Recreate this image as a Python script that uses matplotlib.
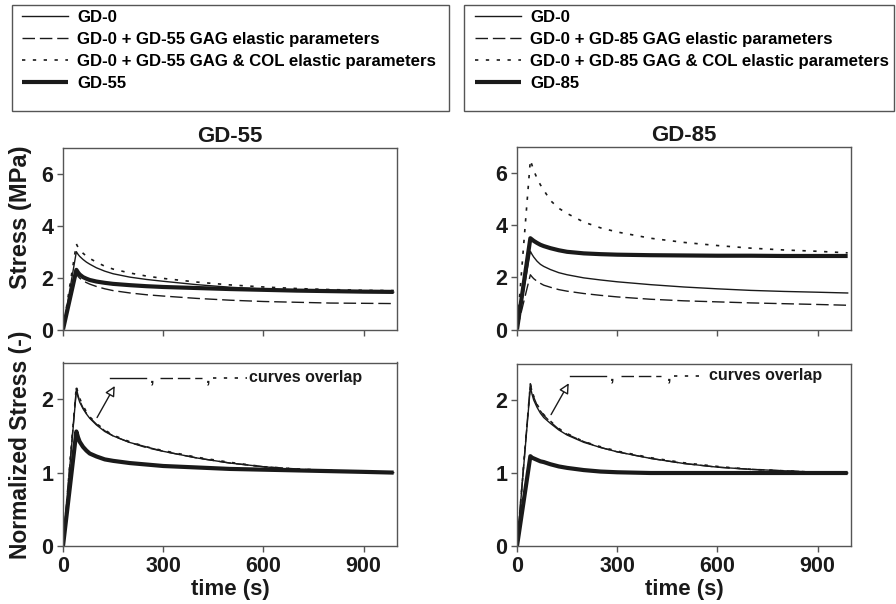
import numpy as np
import matplotlib
matplotlib.use("Agg")
import matplotlib.pyplot as plt
from matplotlib.lines import Line2D
from matplotlib.patches import Rectangle

plt.rcParams['font.family'] = ['Liberation Sans', 'DejaVu Sans']
plt.rcParams['font.weight'] = 'bold'

W, H = 896, 604
INK = '#1a1a1a'
SPINE = '#555555'

# ---------------- data ----------------
time_s = [0, 40, 45, 50, 60, 70, 80, 100, 125, 150, 200, 250, 300, 400, 500, 600, 700, 800, 900, 990]

# GD-55 panel, stress (MPa)
gd55_gd0 = [0, 3.00, 2.90, 2.82, 2.70, 2.60, 2.52, 2.38, 2.25, 2.15, 2.02, 1.93, 1.86, 1.73, 1.63, 1.56, 1.50, 1.47, 1.45, 1.44]
gd55_gag = [0, 2.15, 2.05, 1.98, 1.88, 1.81, 1.75, 1.66, 1.57, 1.50, 1.41, 1.34, 1.29, 1.20, 1.13, 1.08, 1.05, 1.02, 1.01, 1.00]
gd55_gagcol = [0, 3.30, 3.17, 3.08, 2.94, 2.83, 2.74, 2.60, 2.44, 2.33, 2.18, 2.06, 1.97, 1.83, 1.72, 1.64, 1.58, 1.54, 1.51, 1.50]
gd55_exp = [0, 2.30, 2.20, 2.12, 2.02, 1.96, 1.91, 1.85, 1.80, 1.76, 1.71, 1.67, 1.64, 1.60, 1.56, 1.53, 1.50, 1.48, 1.46, 1.45]

# GD-85 panel, stress (MPa)
gd85_gd0 = [0, 3.00, 2.88, 2.78, 2.62, 2.50, 2.42, 2.30, 2.18, 2.10, 1.98, 1.90, 1.83, 1.72, 1.63, 1.56, 1.50, 1.46, 1.43, 1.40]
gd85_gag = [0, 2.10, 2.02, 1.95, 1.85, 1.77, 1.70, 1.62, 1.53, 1.47, 1.38, 1.31, 1.25, 1.16, 1.10, 1.06, 1.02, 0.99, 0.96, 0.93]
gd85_gagcol = [0, 6.50, 6.30, 6.10, 5.80, 5.55, 5.35, 4.95, 4.65, 4.45, 4.12, 3.90, 3.74, 3.50, 3.34, 3.22, 3.12, 3.05, 3.00, 2.94]
gd85_exp = [0, 3.50, 3.45, 3.40, 3.32, 3.25, 3.20, 3.12, 3.04, 2.98, 2.92, 2.89, 2.87, 2.85, 2.84, 2.83, 2.83, 2.82, 2.82, 2.82]

# normalized stress (-)
gd55_gd0_n = [0, 2.12, 2.03, 1.96, 1.87, 1.80, 1.74, 1.65, 1.56, 1.50, 1.41, 1.35, 1.29, 1.20, 1.13, 1.08, 1.04, 1.02, 1.01, 1.00]
gd55_gag_n = [0, 2.15, 2.05, 1.98, 1.88, 1.81, 1.75, 1.66, 1.57, 1.50, 1.41, 1.34, 1.29, 1.20, 1.13, 1.08, 1.05, 1.02, 1.01, 1.00]
gd55_gagcol_n = [0, 2.18, 2.08, 2.01, 1.91, 1.83, 1.76, 1.67, 1.58, 1.51, 1.42, 1.35, 1.30, 1.21, 1.14, 1.08, 1.05, 1.03, 1.01, 1.00]
gd55_exp_n = [0, 1.56, 1.48, 1.42, 1.35, 1.30, 1.26, 1.22, 1.18, 1.16, 1.13, 1.11, 1.09, 1.07, 1.05, 1.04, 1.03, 1.02, 1.01, 1.00]

gd85_gd0_n = [0, 2.18, 2.08, 2.00, 1.90, 1.82, 1.76, 1.68, 1.59, 1.52, 1.42, 1.35, 1.29, 1.20, 1.13, 1.08, 1.05, 1.03, 1.01, 1.00]
gd85_gag_n = [0, 2.22, 2.12, 2.04, 1.93, 1.85, 1.79, 1.70, 1.60, 1.53, 1.43, 1.35, 1.29, 1.20, 1.13, 1.08, 1.05, 1.03, 1.01, 1.00]
gd85_gagcol_n = [0, 2.22, 2.13, 2.05, 1.94, 1.86, 1.80, 1.71, 1.61, 1.54, 1.43, 1.36, 1.30, 1.21, 1.14, 1.09, 1.05, 1.03, 1.01, 1.00]
gd85_exp_n = [0, 1.23, 1.21, 1.20, 1.18, 1.16, 1.15, 1.12, 1.09, 1.07, 1.04, 1.02, 1.01, 1.00, 1.00, 1.00, 1.00, 1.00, 1.00, 1.00]

x_ticks = [0, 300, 600, 900]
stress_ticks = [0, 2, 4, 6]
norm_ticks = [0, 1, 2]
panel_titles = ['GD-55', 'GD-85']
legend_labels_55 = ['GD-0', 'GD-0 + GD-55 GAG elastic parameters',
                    'GD-0 + GD-55 GAG & COL elastic parameters', 'GD-55']
legend_labels_85 = ['GD-0', 'GD-0 + GD-85 GAG elastic parameters',
                    'GD-0 + GD-85 GAG & COL elastic parameters', 'GD-85']

# ---------------- styles ----------------
styles = [
    dict(color=INK, lw=1.0, ls='-'),
    dict(color=INK, lw=1.0, ls=(0, (9, 3.5))),
    dict(color=INK, lw=1.2, ls=(0, (2.0, 4.5))),
    dict(color=INK, lw=3.0, ls='-', solid_capstyle='butt'),
]

fig = plt.figure(figsize=(W / 100, H / 100), dpi=100)


def fbox(x0, y0, x1, y1):
    return [x0 / W, 1 - y1 / H, (x1 - x0) / W, (y1 - y0) / H]


ax_tl = fig.add_axes(fbox(63, 148, 397, 329.5))
ax_tr = fig.add_axes(fbox(517, 147, 851, 329.5))
ax_bl = fig.add_axes(fbox(63, 362.5, 397, 546))
ax_br = fig.add_axes(fbox(517, 363.5, 851, 546))

top_sets = [(ax_tl, [gd55_gd0, gd55_gag, gd55_gagcol, gd55_exp]),
            (ax_tr, [gd85_gd0, gd85_gag, gd85_gagcol, gd85_exp])]
bot_sets = [(ax_bl, [gd55_gd0_n, gd55_gag_n, gd55_gagcol_n, gd55_exp_n]),
            (ax_br, [gd85_gd0_n, gd85_gag_n, gd85_gagcol_n, gd85_exp_n])]

for ax, series in top_sets + bot_sets:
    for ys, st in zip(series, styles):
        ax.plot(time_s, ys, **st)
    ax.set_xlim(0, 1000)
    ax.set_xticks(x_ticks)
    for s in ax.spines.values():
        s.set_color(SPINE)
        s.set_linewidth(1.0)
    ax.tick_params(direction='out', length=4, width=1, color=SPINE,
                   labelsize=15.5, pad=3, labelcolor=INK)

for ax, _ in top_sets:
    ax.set_ylim(0, 7)
    ax.set_yticks(stress_ticks)
    ax.set_xticklabels([])
for ax, _ in bot_sets:
    ax.set_ylim(0, 2.5)
    ax.set_yticks(norm_ticks)
    ax.set_xlabel('time (s)', fontsize=16, fontweight='bold', color=INK, labelpad=2)

ax_tl.set_title(panel_titles[0], fontsize=16, fontweight='bold', color=INK, pad=4)
ax_tr.set_title(panel_titles[1], fontsize=16, fontweight='bold', color=INK, pad=4)

ax_tl.set_ylabel('Stress (MPa)', fontsize=17, fontweight='bold', color=INK)
ax_tl.yaxis.set_label_coords(-0.092, 0.62)
ax_bl.set_ylabel('Normalized Stress (-)', fontsize=16.5, fontweight='bold', color=INK)
ax_bl.yaxis.set_label_coords(-0.092, 0.55)

# "curves overlap" notes with arrows
notes = [
    (ax_bl, (140, 248), (290, 415), (450, 550), 267, 435, 558, 2.29, (102, 1.75), (155, 2.18)),
    (ax_br, (158, 267), (310, 430), (470, 560), 285, 455, 575, 2.33, (102, 1.80), (155, 2.23)),
]
for ax, seg1, seg2, seg3, c1, c2, tx, ty, tail, head in notes:
    ax.plot(seg1, (ty, ty), **styles[0])
    ax.plot(seg2, (ty, ty), **styles[1])
    ax.plot(seg3, (ty, ty), **styles[2])
    ax.text(c1, ty, ',', fontsize=11.5, fontweight='bold', ha='center', va='center', color=INK)
    ax.text(c2, ty, ',', fontsize=11.5, fontweight='bold', ha='center', va='center', color=INK)
    ax.text(tx, ty, 'curves overlap', fontsize=11.5, fontweight='bold', ha='left',
            va='center', color=INK)
    ax.annotate('', xy=head, xytext=tail,
                arrowprops=dict(arrowstyle='-|>,head_length=0.6,head_width=0.3',
                                fc='white', ec=INK, lw=1.0, shrinkA=0, shrinkB=0))

# legends
handles = [Line2D([], [], **st) for st in styles]
for labels, hx, box in [(legend_labels_55, 22, (12, 5, 449, 111)),
                        (legend_labels_85, 475, (464, 5, 894, 111))]:
    fig.legend(handles, labels, loc='upper left', bbox_to_anchor=(hx / W, 1 - 10 / H),
               frameon=False, borderpad=0, borderaxespad=0,
               handlelength=2.75, handletextpad=0.55, labelspacing=0.42,
               prop=dict(weight='bold', size=12.1))
    x0, y0, x1, y1 = box
    fig.add_artist(Rectangle((x0 / W, 1 - y1 / H), (x1 - x0) / W, (y1 - y0) / H,
                             transform=fig.transFigure, fill=False, ec=SPINE, lw=1.0))

fig.savefig('out.png', dpi=100)
